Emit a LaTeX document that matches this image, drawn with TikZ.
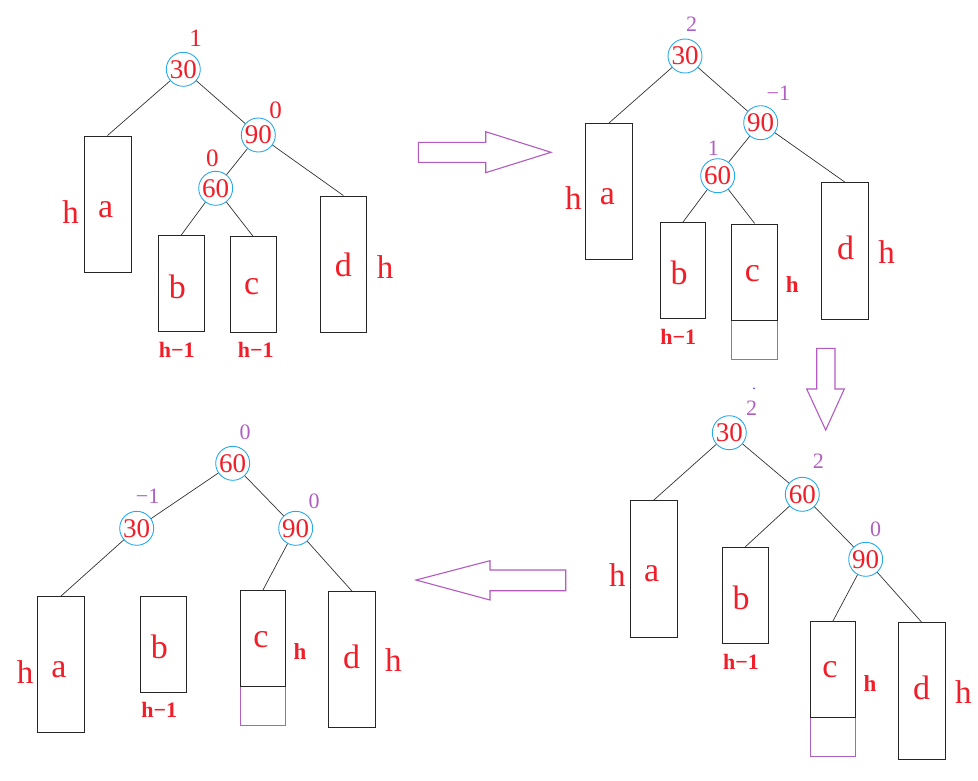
\documentclass[tikz,border=0pt]{standalone}
\usepackage{fontspec}
\setmainfont{Liberation Serif}
\usetikzlibrary{fit}
\definecolor{nred}{RGB}{240,30,40}
\definecolor{bpurp}{RGB}{176,96,192}
\definecolor{apurp}{RGB}{180,90,195}
\definecolor{ccyan}{RGB}{40,170,235}
\tikzset{
  circ/.style={circle,draw=ccyan,line width=0.9pt,minimum size=34pt,inner sep=0pt,text=nred,font=\fontsize{27}{27}\selectfont},
  boxn/.style={rectangle,draw=black!85,line width=1pt,inner sep=0pt},
  pbox/.style={rectangle,draw=bpurp,line width=1pt,inner sep=0pt},
  edge/.style={draw=black!80,line width=0.7pt},
  lbl/.style={text=nred,inner sep=0pt,font=\fontsize{34}{34}\selectfont},
  hbig/.style={text=nred,inner sep=0pt,font=\fontsize{33}{33}\selectfont},
  hsmall/.style={text=nred,inner sep=0pt,font=\bfseries\fontsize{23}{23}\selectfont},
  hm/.style={text=nred,inner sep=0pt,font=\bfseries\fontsize{22}{22}\selectfont},
  balr/.style={text=nred,inner sep=0pt,font=\fontsize{25}{25}\selectfont},
  balp/.style={text=bpurp,inner sep=0pt,font=\fontsize{22}{22}\selectfont},
  bigarrow/.style={draw=apurp,line width=1.1pt,line join=miter},
}
\begin{document}
\begin{tikzpicture}[x=1pt,y=-1pt]
\useasboundingbox[fill=white] (0,0) rectangle (978,780);

% ---------------- top-left tree ----------------
\node[boxn,fit={(84,136) (131,272.7)}] (A1) {};
\node[boxn,fit={(158.3,235.7) (204,331.7)}] (B1) {};
\node[boxn,fit={(230,236.7) (276,332.7)}] (C1) {};
\node[boxn,fit={(320,196) (366.7,332.7)}] (D1) {};
\node[circ] (a30) at (183.3,69.3) {30};
\node[circ] (a90) at (258.3,135) {90};
\node[circ] (a60) at (215.7,188.3) {60};
\draw[edge] (a30) -- (A1.north);
\draw[edge] (a30) -- (a90);
\draw[edge] (a90) -- (a60);
\draw[edge] (a90) -- (D1.north);
\draw[edge] (a60) -- (B1.north);
\draw[edge] (a60) -- (C1.north);
\node[balr] (ab30) at (195.7,38.3) {1};
\node[balr] (ab90) at (275.7,110.7) {0};
\node[balr] (ab60) at (212.3,158.3) {0};
\node[lbl] (la1) at (105.7,210) {a};
\node[hbig] (lh1) at (70.7,211.7) {h};
\node[lbl] (lb1) at (177.3,286.7) {b};
\node[hm] (lbm1) at (176.7,350) {h−1};
\node[lbl] (lc1) at (251.7,286.7) {c};
\node[hm] (lcm1) at (255.7,350) {h−1};
\node[lbl] (ld1) at (343.3,265) {d};
\node[hbig] (ldh1) at (385,266.7) {h};

% ---------------- top-right tree ----------------
\node[boxn,fit={(585.7,123.3) (632.7,259.3)}] (A2) {};
\node[boxn,fit={(660,222.7) (705.7,318.3)}] (B2) {};
\node[pbox,fit={(731.7,320) (777.7,359)}] (P2) {};
\node[boxn,fit={(731.7,224) (777.7,320)}] (C2) {};
\node[boxn,fit={(821.7,182.7) (868.3,319.3)}] (D2) {};
\node[circ] (b30) at (685,56) {30};
\node[circ] (b90) at (760.7,122.7) {90};
\node[circ] (b60) at (717.7,175.7) {60};
\draw[edge] (b30) -- (A2.north);
\draw[edge] (b30) -- (b90);
\draw[edge] (b90) -- (b60);
\draw[edge] (b90) -- (D2.north);
\draw[edge] (b60) -- (B2.north);
\draw[edge] (b60) -- (C2.north);
\node[balp] (bb30) at (691.7,24) {2};
\node[balp] (bb90) at (778.3,93.3) {−1};
\node[balp] (bb60) at (713.3,148.3) {1};
\node[lbl] (la2) at (607.3,196.7) {a};
\node[hbig] (lh2) at (573.3,197.7) {h};
\node[lbl] (lb2) at (679,273.3) {b};
\node[hm] (lbm2) at (678.3,336.7) {h−1};
\node[lbl] (lc2) at (752.3,273.3) {c};
\node[hsmall] (lch2) at (792.3,285) {h};
\node[lbl] (ld2) at (845.7,248.3) {d};
\node[hbig] (ldh2) at (886.7,251.7) {h};

% ---------------- bottom-right tree ----------------
\node[boxn,fit={(630,500.7) (677.3,637.3)}] (A3) {};
\node[boxn,fit={(722.3,547.3) (768.3,643.3)}] (B3) {};
\node[pbox,fit={(810,717.3) (855.7,756.7)}] (P3) {};
\node[boxn,fit={(810,621.7) (855.7,717.3)}] (C3) {};
\node[boxn,fit={(898.3,622.7) (945,759)}] (D3) {};
\node[circ] (c30) at (729.3,432.7) {30};
\node[circ] (c60) at (802.3,494.3) {60};
\node[circ] (c90) at (865.7,559.3) {90};
\draw[edge] (c30) -- (A3.north);
\draw[edge] (c30) -- (c60);
\draw[edge] (c60) -- (B3.north);
\draw[edge] (c60) -- (c90);
\draw[edge] (c90) -- (C3.north);
\draw[edge] (c90) -- (D3.north);
\node[balp] (cb30) at (751.7,408.3) {2};
\node[balp] (cb60) at (818.3,461) {2};
\node[balp] (cb90) at (875.7,529) {0};
\fill[blue!70] (754,388.3) circle (1pt);
\node[lbl] (la3) at (651.7,573.3) {a};
\node[hbig] (lh3) at (617.3,575) {h};
\node[lbl] (lb3) at (741,598.3) {b};
\node[hm] (lbm3) at (741,661.7) {h−1};
\node[lbl] (lc3) at (830,670) {c};
\node[hsmall] (lch3) at (870,683.3) {h};
\node[lbl] (ld3) at (921.7,688.3) {d};
\node[hbig] (ldh3) at (963.3,691.7) {h};

% ---------------- bottom-left tree ----------------
\node[boxn,fit={(37.7,596.7) (84,732.7)}] (A4) {};
\node[boxn,fit={(140.7,596) (186,692.3)}] (B4) {};
\node[pbox,fit={(240,686.7) (285.7,725.7)}] (P4) {};
\node[boxn,fit={(240,590.7) (285.7,686.7)}] (C4) {};
\node[boxn,fit={(328.3,591.7) (375.7,727.7)}] (D4) {};
\node[circ] (d60) at (232.7,463.3) {60};
\node[circ] (d30) at (136.7,528.3) {30};
\node[circ] (d90) at (295.7,528.3) {90};
\draw[edge] (d60) -- (d30);
\draw[edge] (d60) -- (d90);
\draw[edge] (d30) -- (A4.north);
\draw[edge] (d90) -- (C4.north);
\draw[edge] (d90) -- (D4.north);
\node[balp] (db60) at (245,432.7) {0};
\node[balp] (db30) at (147.7,496.7) {−1};
\node[balp] (db90) at (314,501.7) {0};
\node[lbl] (la4) at (59,670) {a};
\node[hbig] (lh4) at (25,671.7) {h};
\node[lbl] (lb4) at (159.3,646.7) {b};
\node[hm] (lbm4) at (159.3,710) {h−1};
\node[lbl] (lc4) at (261,640) {c};
\node[hsmall] (lch4) at (300,651.7) {h};
\node[lbl] (ld4) at (351.7,656.7) {d};
\node[hbig] (ldh4) at (393.3,660) {h};

% ---------------- block arrows ----------------
\draw[bigarrow] (418.3,142.3) -- (485.7,142.3) -- (485.7,131.7) -- (551,152.3)
  -- (485.7,172.7) -- (485.7,162.3) -- (418.3,162.3) -- cycle;
\draw[bigarrow] (816.7,348.3) -- (835,348.3) -- (835,389) -- (844.3,389)
  -- (825.7,430) -- (806.7,389) -- (816.7,389) -- cycle;
\draw[bigarrow] (565.7,570) -- (490,570) -- (490,560.7) -- (416,580)
  -- (490,600) -- (490,590.7) -- (565.7,590.7) -- cycle;
\end{tikzpicture}
\end{document}
